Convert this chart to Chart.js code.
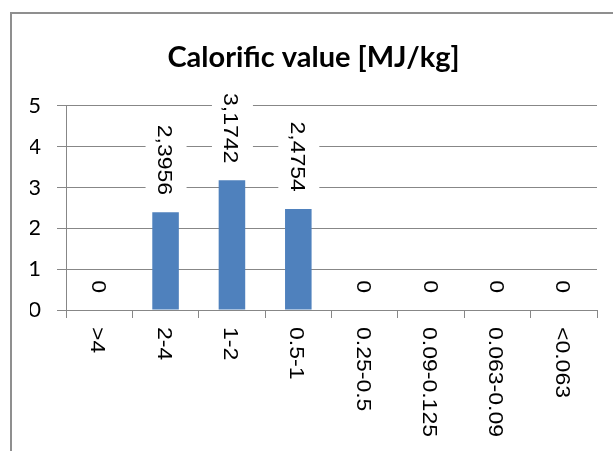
<!DOCTYPE html>
<html>
<head>
<meta charset="utf-8">
<title>Calorific value</title>
<script src="https://cdn.jsdelivr.net/npm/chart.js@4.4.1/dist/chart.umd.min.js"></script>
<style>
  html, body { margin: 0; padding: 0; background: #fff; }
  #wrap { position: relative; width: 613px; height: 451px; }
</style>
</head>
<body>
<div id="wrap"><canvas id="calorific" width="613" height="451"></canvas></div>
<script>
// fractions (mm) and their calorific value
var categories = ['>4', '2-4', '1-2', '0.5-1', '0.25-0.5', '0.09-0.125', '0.063-0.09', '<0.063'];
var calorificValues = [0, 2.3956, 3.1742, 2.4754, 0, 0, 0, 0];
var yTickValues = [0, 1, 2, 3, 4, 5];

var barColor = '#4F81BD';
var lineColor = '#878787';
var rotFont = '20px "Liberation Sans", Arial, sans-serif';
var rotStretch = 1.15;

function formatValue(v) {
    return String(v).replace('.', ',');
}

// grey frame around the chart
var chartFrame = {
    id: 'chartFrame',
    beforeDraw: function(chart) {
        var ctx = chart.ctx;
        ctx.save();
        ctx.fillStyle = '#fff';
        ctx.fillRect(0, 0, chart.width, chart.height);
        ctx.strokeStyle = '#8f8f8f';
        ctx.lineWidth = 2;
        ctx.beginPath();
        ctx.moveTo(11, chart.height + 2);
        ctx.lineTo(11, 13);
        ctx.lineTo(chart.width + 2, 13);
        ctx.stroke();
        ctx.restore();
    }
};

// value labels above the bars, turned 90 degrees
var valueLabels = {
    id: 'valueLabels',
    afterDatasetsDraw: function(chart) {
        var ctx = chart.ctx;
        var meta = chart.getDatasetMeta(0);
        ctx.save();
        ctx.font = rotFont;
        meta.data.forEach(function(bar, i) {
            var text = formatValue(calorificValues[i]);
            var len = ctx.measureText(text).width * rotStretch;
            var end = bar.y - 17;
            ctx.fillStyle = '#fff';
            ctx.fillRect(bar.x - 20, end - len - 3, 41, len + 6);
            ctx.save();
            ctx.translate(bar.x - 7.5, end);
            ctx.rotate(Math.PI / 2);
            ctx.scale(rotStretch, 1);
            ctx.textAlign = 'right';
            ctx.textBaseline = 'alphabetic';
            ctx.fillStyle = '#000';
            ctx.fillText(text, 0, 0);
            ctx.restore();
        });
        ctx.restore();
    }
};

// category names under the x axis, reading downwards
var categoryLabels = {
    id: 'categoryLabels',
    afterDraw: function(chart) {
        var ctx = chart.ctx;
        var xScale = chart.scales.x;
        ctx.save();
        ctx.font = rotFont;
        ctx.fillStyle = '#000';
        categories.forEach(function(c, i) {
            var x = xScale.getPixelForValue(i);
            ctx.save();
            ctx.translate(x - 8, chart.chartArea.bottom + 17);
            ctx.rotate(Math.PI / 2);
            ctx.scale(rotStretch, 1);
            ctx.textAlign = 'left';
            ctx.textBaseline = 'alphabetic';
            ctx.fillText(c, 0, 0);
            ctx.restore();
        });
        ctx.restore();
    }
};

var ctx = document.getElementById('calorific').getContext('2d');
var myChart = new Chart(ctx, {
    type: 'bar',
    data: {
        labels: categories,
        datasets: [{
            label: 'Calorific value',
            data: calorificValues,
            backgroundColor: barColor,
            borderWidth: 0,
            barPercentage: 0.4,
            categoryPercentage: 1
        }]
    },
    options: {
        responsive: false,
        animation: false,
        events: [],
        layout: {
            padding: { left: 30, right: 16, top: 0, bottom: 133 }
        },
        plugins: {
            legend: { display: false },
            tooltip: { enabled: false },
            title: {
                display: true,
                text: 'Calorific value [MJ/kg]',
                color: '#000',
                font: { family: 'Lato', size: 29, weight: 'bold', lineHeight: 1.2 },
                padding: { top: 40, bottom: 31 }
            }
        },
        scales: {
            x: {
                grid: {
                    offset: true,
                    drawOnChartArea: false,
                    drawTicks: true,
                    tickLength: 8,
                    color: lineColor
                },
                border: { color: lineColor },
                ticks: { display: false },
                afterFit: function(scale) { scale.height = 8; }
            },
            y: {
                min: yTickValues[0],
                max: yTickValues[yTickValues.length - 1],
                afterBuildTicks: function(scale) {
                    scale.ticks = yTickValues.map(function(v) { return { value: v }; });
                },
                grid: { color: lineColor, tickLength: 9 },
                border: { color: lineColor },
                ticks: {
                    color: '#000',
                    padding: 16,
                    font: { family: 'Lato', size: 22 }
                },
                afterFit: function(scale) { scale.width = 36; }
            }
        }
    },
    plugins: [chartFrame, valueLabels, categoryLabels]
});
</script>
</body>
</html>
